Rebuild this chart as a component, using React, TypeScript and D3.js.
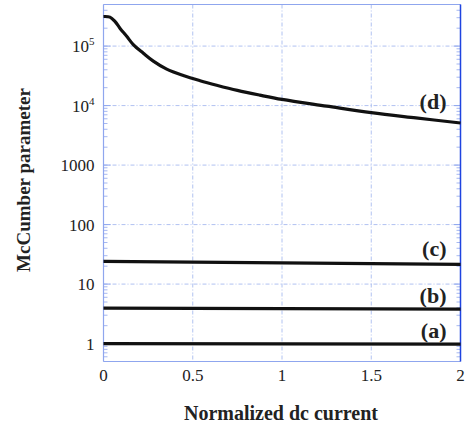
import React from "react";
import * as d3 from "d3";

const curveD_x = [0, 0.036, 0.064, 0.092, 0.13, 0.167, 0.223, 0.279, 0.354, 0.447, 0.541, 0.634, 0.75, 0.875, 1.0, 1.25, 1.5, 1.75, 2.0];
const curveD_y = [3.14e5, 3.07e5, 2.6e5, 2.0e5, 1.46e5, 1.06e5, 7.6e4, 5.6e4, 4.1e4, 3.2e4, 2.62e4, 2.2e4, 1.8e4, 1.5e4, 1.27e4, 9.8e3, 7.6e3, 6.2e3, 5.1e3];
const curveC_x = [0, 2];
const curveC_y = [24, 21.5];
const curveB_x = [0, 2];
const curveB_y = [3.95, 3.8];
const curveA_x = [0, 2];
const curveA_y = [1.0, 0.98];
const curveLabels = ["(a)", "(b)", "(c)", "(d)"];
const xTicks = [0, 0.5, 1, 1.5, 2];
const yTicks = [1, 10, 100, 1000, 1e4, 1e5];

const W = 466, H = 430;
const L = 103.5, R = 460.5, T = 4.5, B = 361.5;

export default function App() {
  const x = d3.scaleLinear().domain([0, 2]).range([L, R]);
  const y = d3.scaleLog().domain([0.5, 5e5]).range([B, T]);
  const line = d3.line<[number, number]>().x(d => x(d[0])).y(d => y(d[1])).curve(d3.curveCatmullRom.alpha(0.5));
  const series = [
    { xs: curveA_x, ys: curveA_y },
    { xs: curveB_x, ys: curveB_y },
    { xs: curveC_x, ys: curveC_y },
    { xs: curveD_x, ys: curveD_y },
  ];
  const minor: number[] = [];
  for (let e = -1; e <= 5; e++) {
    for (let k = 2; k <= 9; k++) {
      const v = k * Math.pow(10, e);
      if (v >= 0.5 && v <= 5e5) minor.push(v);
    }
  }
  const labelBase = [337.5, 302.5, 256, 109];
  const font = "'Liberation Serif', 'Times New Roman', serif";
  const gridColor = "#9db3ee";
  const axisColor = "#8fa6ee";
  const yLabel = (v: number) => {
    if (v >= 1e4) {
      const e = Math.round(Math.log10(v));
      return (
        <text key={v} x={L - 9} y={y(v) + 6} textAnchor="end" fontSize={17} fontFamily={font} fill="#222">
          10<tspan dy={-7} fontSize={11}>{e}</tspan>
        </text>
      );
    }
    return (
      <text key={v} x={L - 9} y={y(v) + 6} textAnchor="end" fontSize={17} fontFamily={font} fill="#222">
        {String(v)}
      </text>
    );
  };
  return (
    <svg width={W} height={H} style={{ position: "absolute", left: 0, top: 0 }}>
      <rect width={W} height={H} fill="white" />
      {xTicks.slice(1, -1).map(t => (
        <line key={"gx" + t} x1={x(t)} x2={x(t)} y1={T} y2={B} stroke={gridColor} strokeWidth={0.8} strokeDasharray="4,2,1,2" />
      ))}
      {yTicks.map(t => (
        <line key={"gy" + t} x1={L} x2={R} y1={y(t)} y2={y(t)} stroke={gridColor} strokeWidth={0.8} strokeDasharray="4,2,1,2" />
      ))}
      {minor.map(v => (
        <g key={"m" + v}>
          <line x1={L} x2={L + 4} y1={y(v)} y2={y(v)} stroke={axisColor} strokeWidth={0.8} />
          <line x1={R} x2={R - 4} y1={y(v)} y2={y(v)} stroke={axisColor} strokeWidth={0.8} />
        </g>
      ))}
      {yTicks.map(t => (
        <g key={"M" + t}>
          <line x1={L} x2={L + 7} y1={y(t)} y2={y(t)} stroke={axisColor} strokeWidth={1} />
          <line x1={R} x2={R - 7} y1={y(t)} y2={y(t)} stroke={axisColor} strokeWidth={1} />
        </g>
      ))}
      <line x1={L} x2={R} y1={T} y2={T} stroke={axisColor} strokeWidth={1.2} />
      <line x1={L} x2={R} y1={B} y2={B} stroke={axisColor} strokeWidth={1.2} />
      <line x1={L} x2={L} y1={T} y2={B} stroke={axisColor} strokeWidth={1.2} />
      <line x1={R} x2={R} y1={T} y2={B} stroke="#1f44e0" strokeWidth={1.5} />
      {series.map((s, i) => (
        <path key={"c" + i} d={line(s.xs.map((v, j) => [v, s.ys[j]]) as [number, number][]) || ""} fill="none" stroke="#111" strokeWidth={3.2} />
      ))}
      {curveLabels.map((lab, i) => (
        <text key={lab} x={446.5} y={labelBase[i]} textAnchor="end" fontSize={22} fontWeight="bold" fontFamily={font} fill="#222">
          {lab}
        </text>
      ))}
      {xTicks.map(t => (
        <text key={"xt" + t} x={x(t)} y={B + 19} textAnchor="middle" fontSize={17} fontFamily={font} fill="#222">
          {String(t)}
        </text>
      ))}
      {yTicks.map(yLabel)}
      <text x={281} y={420} textAnchor="middle" fontSize={20} fontWeight="bold" fontFamily={font} fill="#222">
        Normalized dc current
      </text>
      <text transform="translate(30,180) rotate(-90)" textAnchor="middle" fontSize={19} fontWeight="bold" fontFamily={font} fill="#222">
        McCumber parameter
      </text>
    </svg>
  );
}
